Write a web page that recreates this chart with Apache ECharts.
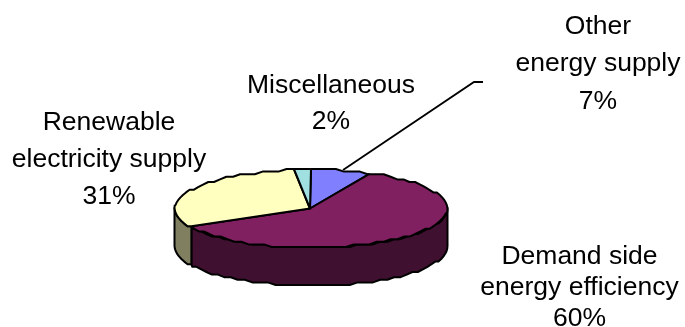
<!DOCTYPE html>
<html>
<head>
<meta charset="utf-8">
<style>html,body{margin:0;padding:0;background:#fff}#chart{width:685px;height:327px}</style>
<script src="https://cdn.jsdelivr.net/npm/echarts@6/dist/echarts.min.js"></script>
</head>
<body>
<div id="chart"></div>
<script>
// Funding shares, clockwise from twelve o'clock
const categories = ['Other\nenergy supply', 'Demand side\nenergy efficiency', 'Renewable\nelectricity supply', 'Miscellaneous'];
const shares = [7, 60, 31, 2];
const topColors = ['#8080ff', '#802060', '#ffffc0', '#a0e0e0'];
const wallColors = ['#404080', '#401030', '#808060', '#507070'];

// Tilted disc geometry; the rim is drawn on a coarse grid, giving its stepped edge
const disc = { cx: 311, cy: 208.5, rx: 136.5, ry: 39, depth: 38, step: 3.5, gridY: 2.6 };
const labelAnchors = [[598, 64], [579.5, 287.5], [109, 159.5], [331, 103.5]];
const labelLeading = [37.5, 31, 37, 36];
const leader = [[343, 170], [474, 82], [483, 82]];

const total = shares.reduce((a, b) => a + b, 0);
const starts = shares.map((_, i) => shares.slice(0, i).reduce((a, b) => a + b, 0) / total * 360);

const rimPoint = (deg, dy) => {
  const t = deg * Math.PI / 180;
  const y = disc.cy - disc.ry * Math.cos(t);
  return [disc.cx + disc.rx * Math.sin(t), Math.round(y / disc.gridY) * disc.gridY + dy];
};
const arc = (from, to, dy) => {
  const pts = [];
  for (let a = from; a < to; a += disc.step) pts.push(rimPoint(a, dy));
  pts.push(rimPoint(to, dy));
  return pts;
};

function renderSlice(params, api) {
  const i = params.dataIndex;
  const from = starts[i];
  const to = from + api.value(0) / total * 360;
  const children = [];
  const border = { stroke: '#000', lineWidth: 2, lineJoin: 'round' };

  // Outer wall: only the part of the rim facing the viewer
  const wallFrom = Math.max(from, 90), wallTo = Math.min(to, 270);
  if (wallTo > wallFrom) {
    const points = arc(wallFrom, wallTo, 0).concat(arc(wallFrom, wallTo, disc.depth).reverse());
    children.push({ type: 'polygon', shape: { points }, style: { fill: wallColors[i], ...border } });
  }
  // Top face
  children.push({
    type: 'polygon',
    shape: { points: [[disc.cx - 1, disc.cy]].concat(arc(from, to, 0)) },
    style: { fill: topColors[i], ...border }
  });
  // Category and percentage label
  children.push({
    type: 'text',
    style: {
      x: labelAnchors[i][0], y: labelAnchors[i][1],
      text: categories[i] + '\n' + api.value(0) + '%',
      fill: '#000', font: '26.5px "Liberation Sans", Arial, sans-serif',
      lineHeight: labelLeading[i], align: 'center', verticalAlign: 'middle'
    }
  });
  // Leader line for the first slice
  if (i === 0) {
    children.push({
      type: 'polyline',
      shape: { points: leader },
      style: { stroke: '#000', lineWidth: 1.8, fill: null }
    });
  }
  return { type: 'group', children };
}

const chart = echarts.init(document.getElementById('chart'), null, { renderer: 'canvas' });
chart.setOption({
  animation: false,
  backgroundColor: '#fff',
  series: [{
    type: 'custom',
    coordinateSystem: 'none',
    renderItem: renderSlice,
    data: shares.map(v => [v]),
    silent: true
  }]
});
</script>
</body>
</html>
